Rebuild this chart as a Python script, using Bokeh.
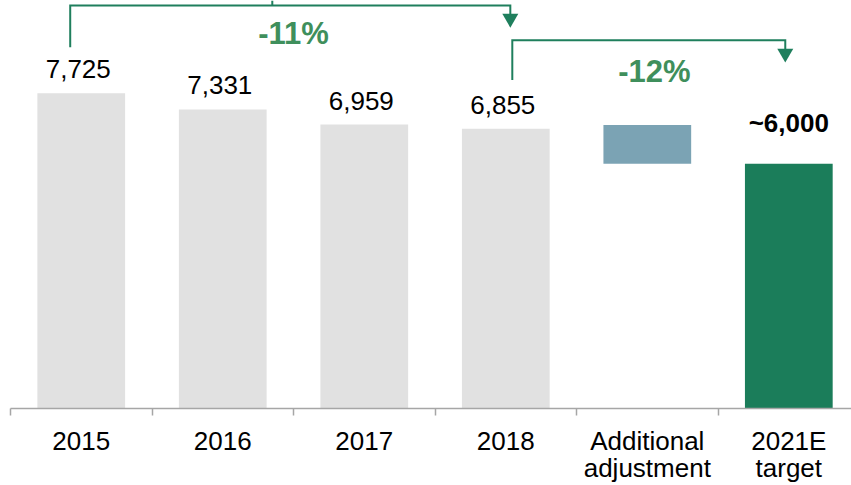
import numpy as np
from bokeh.plotting import figure
from bokeh.models import Range1d, FixedTicker, LinearAxis, ColumnDataSource
from bokeh.core.properties import value
from bokeh.embed import file_html
from bokeh.resources import INLINE

# ---- data ----
categories = ["2015", "2016", "2017", "2018", "Additional\nadjustment", "2021E\ntarget"]
history_values = [7725, 7331, 6959, 6855]
history_labels = ["7,725", "7,331", "6,959", "6,855"]
adjustment_low = 6000
adjustment_high = 6950
target_value = 6000
target_label = "~6,000"
change_labels = ["-11%", "-12%"]

# ---- style ----
FONT = value("Liberation Sans")
GREY = "#E1E1E1"
BLUE = "#7BA3B4"
GREEN = "#1B7D5A"
LINE_GREEN = "#1F7F5D"
PCT_GREEN = "#3F8F5C"
AXIS_GREY = "#A6A6A6"
BAR_W = 0.62

n = len(categories)
centers = np.arange(n) + 0.5

p = figure(width=851, height=485,
           x_range=Range1d(0, 5.943), y_range=Range1d(0, 10000),
           output_backend="svg", toolbar_location=None,
           x_axis_location=None, y_axis_location=None,
           min_border_left=10, min_border_right=0, min_border_top=0,
           min_border_bottom=75, outline_line_color=None)
p.grid.visible = False
p.background_fill_color = "white"

# historical bars
src = ColumnDataSource(dict(x=centers[:4], top=history_values, label=history_labels))
p.vbar(x="x", top="top", bottom=0, width=BAR_W, source=src,
       fill_color=GREY, line_color=None)
p.text(x="x", y="top", text="label", source=src, text_font=FONT,
       text_font_size="26px", text_align="center", text_baseline="alphabetic",
       x_offset=-3, y_offset=-24, text_color="#000000")

# adjustment bar
p.vbar(x=[centers[4]], bottom=[adjustment_low], top=[adjustment_high], width=BAR_W,
       fill_color=BLUE, line_color=None)

# target bar
p.vbar(x=[centers[5]], bottom=[0], top=[target_value], width=BAR_W,
       fill_color=GREEN, line_color=None)
p.text(x=[centers[5]], y=[target_value], text=[target_label], text_font=FONT,
       text_font_size="26px", text_font_style="bold", text_align="center",
       text_baseline="alphabetic", y_offset=-41, text_color="#000000")

# brackets
b1_left = centers[0] - 0.078
b1_right = centers[3] + 0.032
b1_top = 9878
p.line(x=[b1_left, b1_left, b1_right, b1_right], y=[8854, b1_top, b1_top, 9600],
       line_color=LINE_GREEN, line_width=2, line_join="miter")
p.segment(x0=[centers[1] + 0.35], y0=[b1_top], x1=[centers[1] + 0.35], y1=[10000],
          line_color=LINE_GREEN, line_width=2)
p.scatter(x=[b1_right], y=[9561], marker="inverted_triangle", size=16,
          fill_color=LINE_GREEN, line_color=None)

b2_left = centers[3] + 0.046
b2_right = centers[5] - 0.025
b2_top = 9024
p.line(x=[b2_left, b2_left, b2_right, b2_right], y=[8049, b2_top, b2_top, 8750],
       line_color=LINE_GREEN, line_width=2, line_join="miter")
p.scatter(x=[b2_right], y=[8707], marker="inverted_triangle", size=16,
          fill_color=LINE_GREEN, line_color=None)

p.text(x=[(centers[0] + centers[3]) / 2, (centers[3] + centers[5]) / 2 + 0.05],
       y=[8902, 7976], text=change_labels, text_font=FONT, text_font_size="31px",
       text_font_style="bold", text_align="center", text_baseline="alphabetic",
       y_offset=-12, text_color=PCT_GREEN)

# x axis
ax = LinearAxis(ticker=FixedTicker(ticks=list(centers), minor_ticks=list(range(n + 1))))
ax.major_label_overrides = {float(c): cat for c, cat in zip(centers, categories)}
ax.major_tick_line_color = None
ax.major_tick_in = 0
ax.major_tick_out = 0
ax.minor_tick_in = 0
ax.minor_tick_out = 7
ax.minor_tick_line_color = AXIS_GREY
ax.minor_tick_line_width = 1.5
ax.axis_line_color = AXIS_GREY
ax.axis_line_width = 1.5
ax.major_label_text_font = "Liberation Sans"
ax.major_label_text_font_size = "26px"
ax.major_label_text_color = "#000000"
ax.major_label_text_line_height = 0.9
ax.major_label_standoff = 10
p.add_layout(ax, "below")

open("out.html", "w").write(file_html(p, INLINE))
